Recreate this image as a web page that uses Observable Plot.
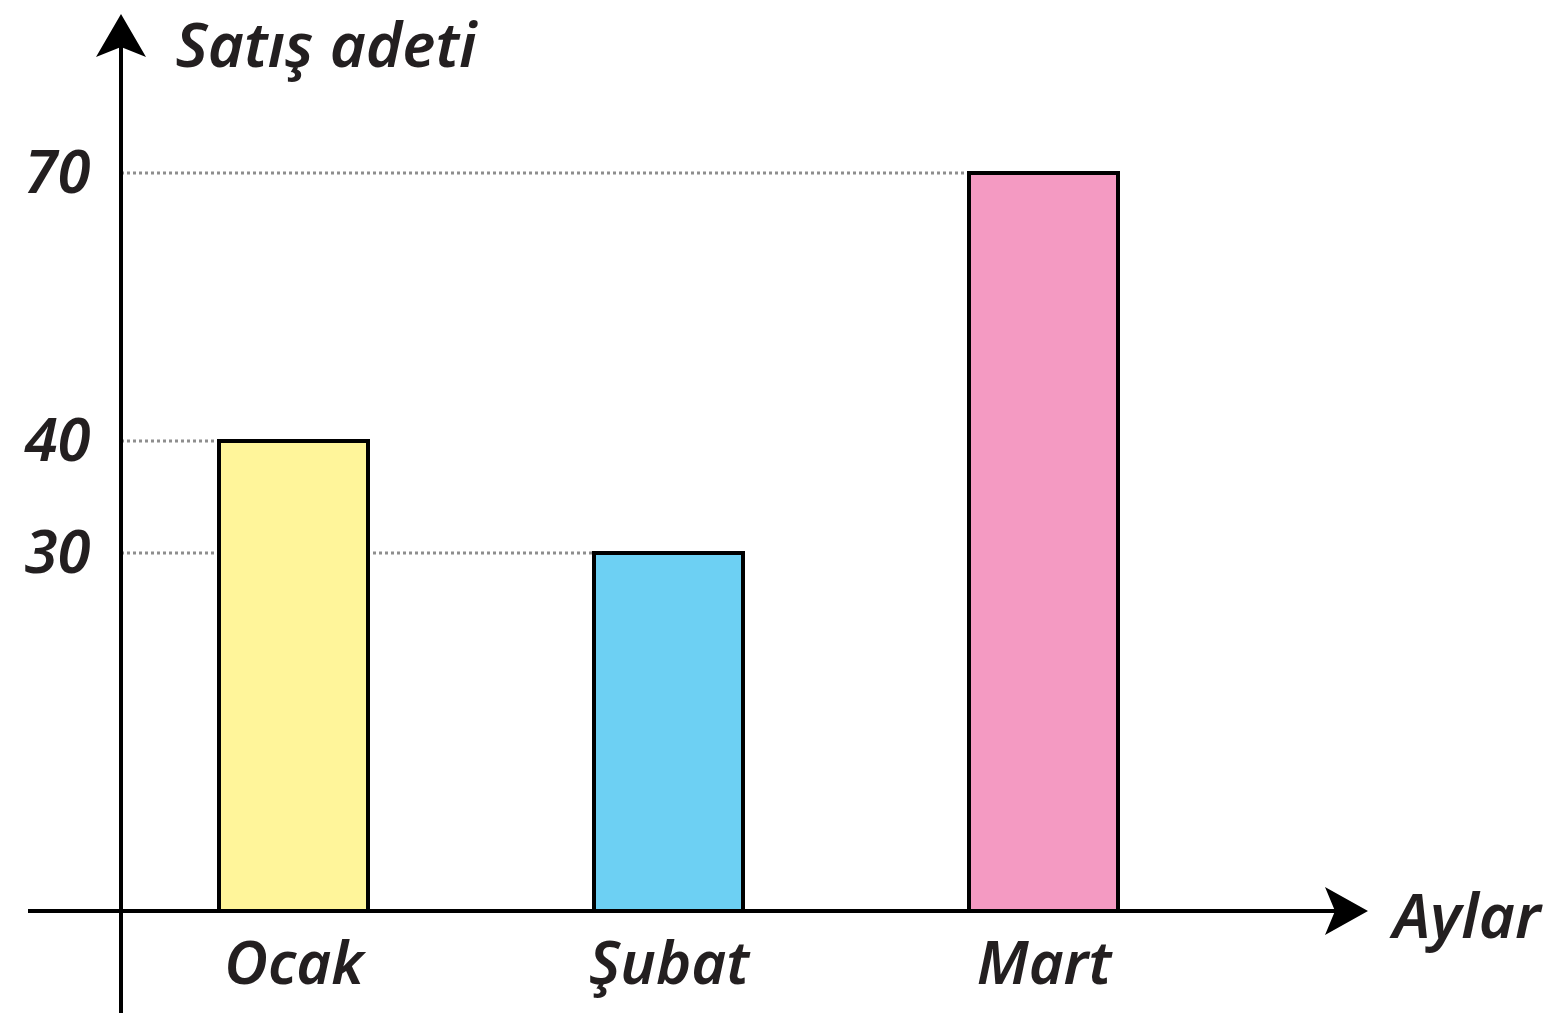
<!DOCTYPE html>
<html>
<head>
<meta charset="utf-8">
<script src="https://cdn.jsdelivr.net/npm/d3@7"></script>
<script src="https://cdn.jsdelivr.net/npm/@observablehq/plot@0.6"></script>
<style>
  html, body { margin: 0; padding: 0; background: #fff; }
  #chart svg { display: block; }
</style>
</head>
<body>
<div id="chart"></div>
<script>
// ---- data ----
const months = ["Ocak", "Şubat", "Mart"];
const sales = [40, 30, 70];
const barColors = ["#FFF59A", "#6DD0F3", "#F49AC2"];
const yTicks = [30, 40, 70];
const yLabel = "Satış adeti";
const xLabel = "Aylar";

const data = months.map((m, i) => ({month: m, value: sales[i]}));
const W = 1552, H = 1017;
const font = "'Noto Sans', sans-serif";
const ink = "#231F20";

const chart = Plot.plot({
  width: W,
  height: H,
  marginLeft: 121,
  marginRight: 0,
  marginTop: 0,
  marginBottom: 106,
  style: {background: "#fff", fontFamily: font, overflow: "visible"},
  x: {type: "band", domain: months, range: [219, 1118], paddingInner: 0.6027, paddingOuter: 0, axis: null},
  // the drawing's vertical scale is hand-drawn (not uniform), so use a piecewise linear scale
  y: {type: "linear", domain: [0, 30, 40, 70], range: [911, 553, 441, 173], axis: null},
  color: {domain: months, range: barColors},
  marks: [
    Plot.barY(data, {x: "month", y: "value", fill: "month", stroke: "#000", strokeWidth: 4}),
    // y tick labels
    Plot.text(yTicks, {y: d => d, text: d => String(d), frameAnchor: "left", dx: -31, textAnchor: "end",
      fontSize: 60, fontStyle: "italic", fontWeight: 600, fill: ink}),
    // month labels
    Plot.text(data, {x: "month", text: "month", frameAnchor: "bottom", dy: 72,
      fontSize: 60, fontStyle: "italic", fontWeight: 600, fill: ink}),
    // axis titles
    Plot.text([yLabel], {frameAnchor: "top-left", dx: 54, dy: 22, textAnchor: "start",
      fontSize: 62, fontStyle: "italic", fontWeight: 600, fill: ink}),
    Plot.text([xLabel], {frameAnchor: "bottom-right", dx: -12, dy: 26, textAnchor: "end",
      fontSize: 62, fontStyle: "italic", fontWeight: 600, fill: ink})
  ]
});

const svg = d3.select(chart);
const xs = chart.scale("x");
const ys = chart.scale("y");
const y0 = ys.apply(0);
const axisX = 121;

// dotted guide lines from the y axis to each bar (behind the bars)
const guides = svg.insert("g", "g[aria-label='bar']").attr("aria-label", "guides");
data.forEach(d => {
  const y = ys.apply(d.value);
  guides.append("line")
    .attr("x1", axisX).attr("x2", xs.apply(d.month) + 2)
    .attr("y1", y).attr("y2", y)
    .attr("stroke", "#8e8e8e").attr("stroke-width", 3).attr("stroke-dasharray", "3,3");
});

// arrow axes
const g = svg.append("g").attr("aria-label", "axes");
g.append("line").attr("x1", axisX).attr("x2", axisX).attr("y1", H - 4).attr("y2", 40)
  .attr("stroke", "#000").attr("stroke-width", 4);
g.append("path").attr("d", `M${axisX},14 L${axisX + 25},57 L${axisX},47 L${axisX - 25},57 Z`).attr("fill", "#000");
g.append("line").attr("x1", 28).attr("x2", 1345).attr("y1", y0).attr("y2", y0)
  .attr("stroke", "#000").attr("stroke-width", 4);
g.append("path").attr("d", `M1368,${y0} L1325,${y0 - 24} L1335,${y0} L1325,${y0 + 24} Z`).attr("fill", "#000");

document.getElementById("chart").appendChild(chart);
</script>
</body>
</html>
